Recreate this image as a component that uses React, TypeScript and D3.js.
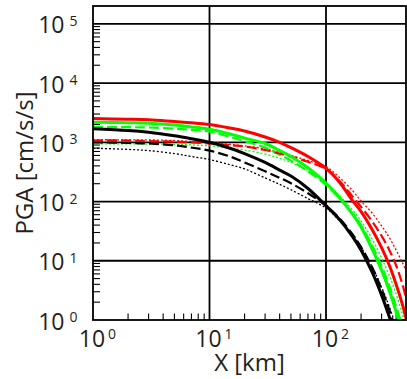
import React from 'react';
import * as d3 from 'd3';

// Hypocentral distance [km]
const X_KM = [1, 2, 3, 5, 7, 10, 15, 20, 30, 40, 50, 70, 100, 130, 170, 200, 250, 300, 350, 400, 450, 490];

// PGA [cm/s/s]
const RED_SOLID = [2512, 2455, 2399, 2239, 2138, 1995, 1738, 1549, 1230, 1000, 813, 575, 363, 214, 102, 67.6, 33.1, 16.6, 8.3, 3.98, 1.91, 1.0];
const RED_DASHED = [1072, 1072, 1047, 1023, 1000, 955, 891, 851, 741, 646, 575, 468, 355, 224, 120, 81.3, 45.7, 26.3, 15.1, 8.32, 4.17, 2.24];
const RED_DOTTED = [1109, 1096, 1096, 1072, 1035, 1000, 923, 871, 776, 676, 603, 490, 389, 257, 151, 102, 63.1, 38.9, 24.5, 15.1, 9.55, 6.61];
const GREEN_SOLID = [2188, 2138, 2089, 1950, 1820, 1660, 1380, 1175, 955, 724, 575, 372, 204, 117, 60.3, 37.2, 15.5, 6.92, 3.09, 1.38, 0.63, 0.34];
const GREEN_DASHED = [1820, 1799, 1778, 1698, 1622, 1514, 1230, 1047, 813, 617, 490, 324, 191, 115, 61.7, 39.8, 17.8, 8.13, 3.72, 1.7, 0.79, 0.43];
const GREEN_DOTTED = [944, 944, 933, 923, 902, 871, 794, 741, 631, 537, 457, 331, 204, 126, 70.8, 46.8, 22.9, 11.2, 5.62, 2.75, 1.32, 0.76];
const BLACK_SOLID = [1698, 1585, 1479, 1288, 1148, 1000, 794, 646, 457, 339, 269, 166, 85.1, 50.1, 25.1, 15.1, 6.31, 2.63, 1.12, 0.5, 0.22, 0.12];
const BLACK_DASHED = [1000, 977, 955, 891, 813, 724, 575, 457, 324, 251, 204, 138, 85.1, 52.5, 27.5, 17.0, 7.59, 3.31, 1.48, 0.66, 0.32, 0.17];
const BLACK_DOTTED = [794, 759, 724, 646, 575, 513, 417, 355, 251, 195, 158, 112, 77.6, 47.9, 26.9, 17.0, 7.76, 3.55, 1.66, 0.76, 0.35, 0.19];

const X_DECADES = [0, 1, 2];
const Y_DECADES = [0, 1, 2, 3, 4, 5];

const X_TITLE = 'X [km]';
const Y_TITLE = 'PGA [cm/s/s]';

const W = 407;
const H = 379;
const PL = 93, PR = 406, PT = 6, PB = 320;
const FONT = "'Open Sans', sans-serif";
const TXT = '#231f20';

const RED = '#ff0000';
const GREEN = '#00ff00';
const BLACK = '#000000';

const series = [
  { values: BLACK_DOTTED, color: BLACK, width: 1.3, dash: '2,2' },
  { values: GREEN_DOTTED, color: GREEN, width: 1.3, dash: '2,2' },
  { values: RED_DOTTED, color: RED, width: 1.3, dash: '2,2' },
  { values: BLACK_DASHED, color: BLACK, width: 2.2, dash: '10,4' },
  { values: GREEN_DASHED, color: GREEN, width: 2.2, dash: '10,4' },
  { values: RED_DASHED, color: RED, width: 2.2, dash: '10,4' },
  { values: BLACK_SOLID, color: BLACK, width: 3, dash: null },
  { values: GREEN_SOLID, color: GREEN, width: 3, dash: null },
  { values: RED_SOLID, color: RED, width: 3, dash: null },
];

export default function App() {
  const x = d3.scaleLog().domain([1, 486]).range([PL, PR]);
  const y = d3.scaleLog().domain([1, 2e5]).range([PB, PT]);

  const line = d3
    .line<[number, number]>()
    .x((d) => x(d[0]))
    .y((d) => y(d[1]))
    .curve(d3.curveCatmullRom.alpha(0.5));

  const xMinor: number[] = [];
  for (let k = 0; k <= 2; k++) for (let m = 2; m <= 9; m++) {
    const v = m * Math.pow(10, k);
    if (v < 486) xMinor.push(v);
  }
  const yMinor: number[] = [];
  for (let k = 0; k <= 4; k++) for (let m = 2; m <= 9; m++) yMinor.push(m * Math.pow(10, k));

  return (
    <svg width={W} height={H} style={{ position: 'absolute', left: 0, top: 0, background: '#fff' }}>
      <defs>
        <clipPath id="plot">
          <rect x={PL} y={PT} width={PR - PL} height={PB - PT} />
        </clipPath>
      </defs>
      <rect x={0} y={0} width={W} height={H} fill="#fff" />

      {/* grid */}
      {X_DECADES.filter((k) => k > 0).map((k) => (
        <line key={'gx' + k} x1={x(Math.pow(10, k))} x2={x(Math.pow(10, k))} y1={PT} y2={PB} stroke={BLACK} strokeWidth={1.8} />
      ))}
      {Y_DECADES.filter((k) => k > 0).map((k) => (
        <line key={'gy' + k} x1={PL} x2={PR} y1={y(Math.pow(10, k))} y2={y(Math.pow(10, k))} stroke={BLACK} strokeWidth={1.8} />
      ))}

      {/* minor ticks */}
      {xMinor.map((v) => (
        <line key={'mx' + v} x1={x(v)} x2={x(v)} y1={PB} y2={PB - 6.5} stroke={BLACK} strokeWidth={1.1} />
      ))}
      {yMinor.map((v) => (
        <line key={'my' + v} x1={PL} x2={PL + 7} y1={y(v)} y2={y(v)} stroke={BLACK} strokeWidth={1.1} />
      ))}

      {/* curves */}
      <g clipPath="url(#plot)">
        {series.map((s, i) => (
          <path
            key={i}
            d={line(X_KM.map((d, j) => [d, s.values[j]] as [number, number])) || ''}
            fill="none"
            stroke={s.color}
            strokeWidth={s.width}
            strokeDasharray={s.dash || undefined}
          />
        ))}
      </g>

      {/* frame */}
      <rect x={PL} y={PT} width={PR - PL} height={PB - PT} fill="none" stroke={BLACK} strokeWidth={1.8} />

      {/* y tick labels */}
      {Y_DECADES.map((k) => {
        const yy = y(Math.pow(10, k));
        return (
          <g key={'yl' + k} fill={TXT} fontFamily={FONT}>
            <text x={64.5} y={yy + 9.5} fontSize={23} textAnchor="end">10</text>
            <text x={69.5} y={yy + 2} fontSize={14} textAnchor="start">{k}</text>
          </g>
        );
      })}

      {/* x tick labels */}
      {X_DECADES.map((k) => {
        const xx = x(Math.pow(10, k));
        return (
          <g key={'xl' + k} fill={TXT} fontFamily={FONT}>
            <text x={xx - 1} y={346.7} fontSize={23} textAnchor="middle">10</text>
            <text x={xx + 15} y={338.5} fontSize={14} textAnchor="start">{k}</text>
          </g>
        );
      })}

      {/* axis titles */}
      <text x={(PL + PR) / 2} y={371} fontSize={24} fontFamily={FONT} fill={TXT} textAnchor="middle">{X_TITLE}</text>
      <text transform={`translate(33,${(PT + PB) / 2}) rotate(-90)`} fontSize={24} fontFamily={FONT} fill={TXT} textAnchor="middle">{Y_TITLE}</text>
    </svg>
  );
}
